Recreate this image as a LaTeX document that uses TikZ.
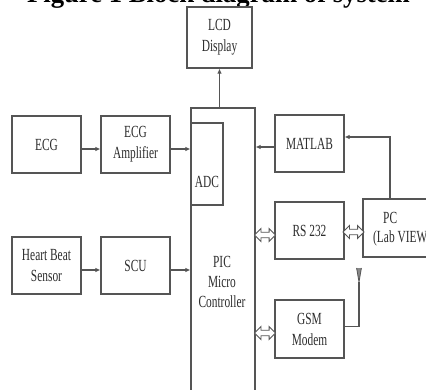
\documentclass[tikz,border=0pt]{standalone}
\usepackage{fontspec}
\setmainfont{Liberation Serif}
\newfontfamily\boxfont{Liberation Serif}[FakeStretch=0.67]
\usetikzlibrary{arrows.meta,shapes.arrows,calc}
\definecolor{ln}{RGB}{85,85,85}
\definecolor{tx}{RGB}{45,45,45}
\begin{document}
\begin{tikzpicture}[x=1pt,y=-1pt,
  box/.style={draw=ln, line width=1.1pt, inner sep=0pt, align=center, text=tx,
    font=\boxfont\fontsize{17}{21}\selectfont},
  lbl/.style={inner sep=0pt, align=center, text=tx, font=\boxfont\fontsize{17}{20}\selectfont},
  arr/.style={draw=ln, line width=1.1pt, -{Latex[length=5pt,width=4.5pt]}},
  wire/.style={draw=ln, line width=1.1pt},
  dbl/.style={double arrow, draw=ln, line width=0.9pt, fill=white, minimum height=21pt,
    minimum width=12pt, inner xsep=0pt, inner ysep=2.3pt, double arrow head extend=3.7pt}]
\useasboundingbox (0,0) rectangle (426,389);
\clip (0,0) rectangle (426,389);
\fill[white] (0,0) rectangle (426,389);

% title (cut off at top)
\node[anchor=base, inner sep=0pt, font=\bfseries\fontsize{26.7}{30}\selectfont] (title) at (218.5,2.5) {Figure 1 Block diagram of system};

% boxes
\node[box, minimum width=65pt, minimum height=61pt] (lcd) at (219.5,37.5) {LCD\\Display};
\node[box, minimum width=64pt, minimum height=292pt] (pic) at (223,254) {};
\node[box, minimum width=32pt, minimum height=82pt] (adc) at (207,164) {};
\node[lbl] (adctext) at (207,182) {ADC};
\node[lbl] (pictext) at (222,281.5) {PIC\\Micro\\Controller};

\node[box, minimum width=69pt, minimum height=57pt] (ecg) at (46.5,144.5) {ECG};
\node[box, minimum width=69pt, minimum height=57pt] (amp) at (135.5,144.5) {ECG\\Amplifier};
\node[box, minimum width=69pt, minimum height=57pt] (hbs) at (46.5,265.5) {Heart Beat\\Sensor};
\node[box, minimum width=69pt, minimum height=57pt] (scu) at (135.5,265.5) {SCU};

\node[box, minimum width=69pt, minimum height=57pt] (matlab) at (309.5,143.5) {MATLAB};
\node[box, minimum width=69pt, minimum height=57pt] (rs) at (309.5,230.5) {RS 232};
\node[box, minimum width=69pt, minimum height=58pt] (gsm) at (309.5,329) {GSM\\Modem};
\node[box, minimum width=82pt, minimum height=58pt] (pc) at (404,228) {};
\node[lbl, anchor=base west] (pct1) at (383,223) {PC};
\node[lbl, anchor=base west] (pct2) at (373,242.5) {(Lab VIEW)};

% connectors
\draw[arr] ([yshift=-4.5pt]ecg.east) -- ([yshift=-4.5pt]amp.west);
\draw[arr] ([yshift=-4.5pt]amp.east) -- ([yshift=-4.5pt]amp.east -| adc.west);
\draw[arr] ([yshift=-4.5pt]hbs.east) -- ([yshift=-4.5pt]scu.west);
\draw[arr] ([yshift=-4.5pt]scu.east) -- ([yshift=-4.5pt]scu.east -| pic.west);
\draw[arr] (pic.north -| lcd.south) -- (lcd.south);
\draw[arr] ([yshift=-3.5pt]matlab.west) -- ([yshift=-3.5pt]matlab.west -| pic.east);
\draw[arr] ([xshift=-14pt]pc.north) |- ([yshift=6.5pt]matlab.east);

\node[dbl, yshift=-4.5pt] (d1) at ($(pic.east |- rs.west)!.5!(rs.west)$) {};
\node[dbl, yshift=-1.5pt] (d2) at ($(rs.east)!.5!(rs.east -| pc.west)$) {};
\node[dbl, yshift=-4pt] (d3) at ($(pic.east |- gsm.west)!.5!(gsm.west)$) {};

% antenna
\coordinate (ant) at (359,282);
\draw[wire] ([yshift=2.5pt]gsm.east) -| (ant);
\filldraw[draw=ln, fill=ln!70, line width=0.8pt, line join=round] (356.6,268) -- (ant) -- (361.4,268);
\end{tikzpicture}
\end{document}
